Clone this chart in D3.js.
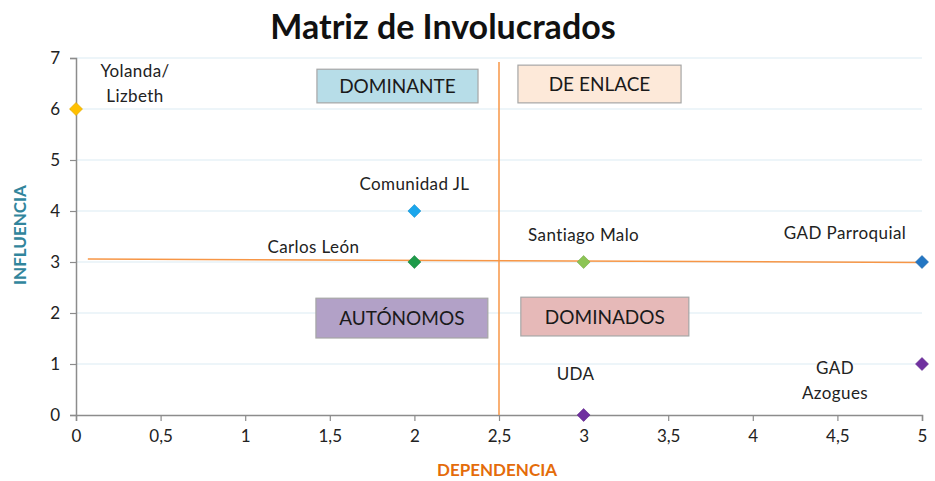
<!DOCTYPE html>
<html>
<head>
<meta charset="utf-8">
<script src="https://cdn.jsdelivr.net/npm/d3@7"></script>
<style>
  body { margin: 0; background: #fff; }
  svg { display: block; font-family: Lato, "Open Sans", sans-serif; }
</style>
</head>
<body>
<svg id="chart" width="935" height="481"></svg>
<script>
// Stakeholder matrix data
const actors = ["Yolanda/Lizbeth", "Comunidad JL", "Carlos León", "Santiago Malo", "GAD Parroquial", "GAD Azogues", "UDA"];
const dependencia = [0, 2, 2, 3, 5, 5, 3];
const influencia = [6, 4, 3, 3, 3, 1, 0];
const colors = ["#ffc000", "#1ba6ec", "#1e9a4a", "#8cc455", "#2376c3", "#7030a0", "#7030a0"];

const xTicks = [0, 0.5, 1, 1.5, 2, 2.5, 3, 3.5, 4, 4.5, 5];
const yTicks = [0, 1, 2, 3, 4, 5, 6, 7];

const quadrants = ["DOMINANTE", "DE ENLACE", "AUTÓNOMOS", "DOMINADOS"];
const quadrantFills = ["#b7dde8", "#fde9d9", "#b2a1c7", "#e6b9b8"];

// Label placement (pixel offsets from each point, one line per array entry)
const labelLayout = {
  "Yolanda/Lizbeth": { lines: ["Yolanda/", "Lizbeth"], dx: 59, dy: -32 },
  "Comunidad JL": { lines: ["Comunidad JL"], dx: 0, dy: -21 },
  "Carlos León": { lines: ["Carlos León"], dx: -101, dy: -9 },
  "Santiago Malo": { lines: ["Santiago Malo"], dx: 0, dy: -21 },
  "GAD Parroquial": { lines: ["GAD Parroquial"], dx: -77, dy: -23 },
  "GAD Azogues": { lines: ["GAD", "Azogues"], dx: -87, dy: 10 },
  "UDA": { lines: ["UDA"], dx: -8, dy: -35 }
};

// Quadrant label boxes, in data units [x0, x1, yTop, yBottom]
const quadrantBoxes = [
  [1.424, 2.376, 6.78, 6.12],
  [2.612, 3.576, 6.86, 6.12],
  [1.418, 2.434, 2.29, 1.51],
  [2.629, 3.622, 2.31, 1.55]
];

const svg = d3.select("#chart");
const x = d3.scaleLinear().domain([0, 5]).range([76, 922]);
const y = d3.scaleLinear().domain([0, 7]).range([415, 58]);

// Gridlines
svg.append("g").selectAll("line").data(yTicks.filter(d => d > 0)).join("line")
  .attr("x1", x(0)).attr("x2", x(5))
  .attr("y1", d => y(d)).attr("y2", d => y(d))
  .attr("stroke", "#dcebf3").attr("stroke-width", 1.2);

// Axes
const xAxis = svg.append("g").attr("transform", `translate(0,${y(0)})`)
  .call(d3.axisBottom(x).tickValues(xTicks).tickSize(6).tickPadding(9)
    .tickFormat(d => String(d).replace(".", ",")));
const yAxis = svg.append("g").attr("transform", `translate(${x(0)},0)`)
  .call(d3.axisLeft(y).tickValues(yTicks).tickSize(6).tickPadding(10).tickFormat(d3.format("d")));
[xAxis, yAxis].forEach(a => {
  a.select(".domain").attr("stroke", "#8c8c8c").attr("stroke-width", 1.5);
  a.selectAll(".tick line").attr("stroke", "#8c8c8c").attr("stroke-width", 1.2);
  a.selectAll(".tick text").attr("fill", "#222").style("font-size", "17px")
    .style("font-family", "Lato, sans-serif");
});

// Quadrant divider lines
svg.append("line")
  .attr("x1", x(2.5)).attr("x2", x(2.5)).attr("y1", y(6.92)).attr("y2", y(0))
  .attr("stroke", "#f79646").attr("stroke-width", 1.5);
svg.append("line")
  .attr("x1", x(0.07)).attr("x2", x(5)).attr("y1", y(3.06)).attr("y2", y(2.99))
  .attr("stroke", "#f79646").attr("stroke-width", 1.5);

// Quadrant boxes
const qb = svg.append("g").selectAll("g").data(quadrants).join("g");
qb.append("rect")
  .attr("x", (d, i) => x(quadrantBoxes[i][0]))
  .attr("y", (d, i) => y(quadrantBoxes[i][2]))
  .attr("width", (d, i) => x(quadrantBoxes[i][1]) - x(quadrantBoxes[i][0]))
  .attr("height", (d, i) => y(quadrantBoxes[i][3]) - y(quadrantBoxes[i][2]))
  .attr("fill", (d, i) => quadrantFills[i])
  .attr("stroke", "#a6a6a6").attr("stroke-width", 1.2);
qb.append("text")
  .attr("x", (d, i) => (x(quadrantBoxes[i][0]) + x(quadrantBoxes[i][1])) / 2)
  .attr("y", (d, i) => (y(quadrantBoxes[i][2]) + y(quadrantBoxes[i][3])) / 2 + 7)
  .attr("text-anchor", "middle")
  .style("font-size", "19px").attr("fill", "#1a1a1a")
  .text(d => d);

// Points (square-ish diamonds)
const diamond = "M0,-6.5L6.5,0L0,6.5L-6.5,0Z";
const pts = actors.map((a, i) => ({ name: a, dx: dependencia[i], in: influencia[i], c: colors[i] }));
svg.append("g").selectAll("path").data(pts).join("path")
  .attr("transform", d => `translate(${x(d.dx)},${y(d.in)})`)
  .attr("d", diamond)
  .attr("fill", d => d.c).attr("stroke", d => d3.color(d.c).darker(0.4)).attr("stroke-width", 0.6);

// Point labels
const lab = svg.append("g").selectAll("text").data(pts).join("text")
  .attr("text-anchor", "middle").style("font-size", "17px").attr("fill", "#222")
  .style("letter-spacing", "0.4px");
lab.each(function(d) {
  const L = labelLayout[d.name];
  const t = d3.select(this);
  L.lines.forEach((ln, k) => {
    t.append("tspan")
      .attr("x", x(d.dx) + L.dx)
      .attr("y", y(d.in) + L.dy + k * 25)
      .text(ln);
  });
});

// Title and axis titles
svg.append("text").attr("x", 443).attr("y", 39).attr("text-anchor", "middle")
  .style("font-size", "34px").style("font-weight", "bold").attr("fill", "#111")
  .text("Matriz de Involucrados");
svg.append("text").attr("x", 497).attr("y", 476).attr("text-anchor", "middle")
  .style("font-size", "17px").style("font-weight", "bold").attr("fill", "#e46c0a")
  .text("DEPENDENCIA");
svg.append("text").attr("transform", "translate(26,235) rotate(-90)").attr("text-anchor", "middle")
  .style("font-size", "17px").style("font-weight", "bold").attr("fill", "#31859c")
  .text("INFLUENCIA");
</script>
</body>
</html>
